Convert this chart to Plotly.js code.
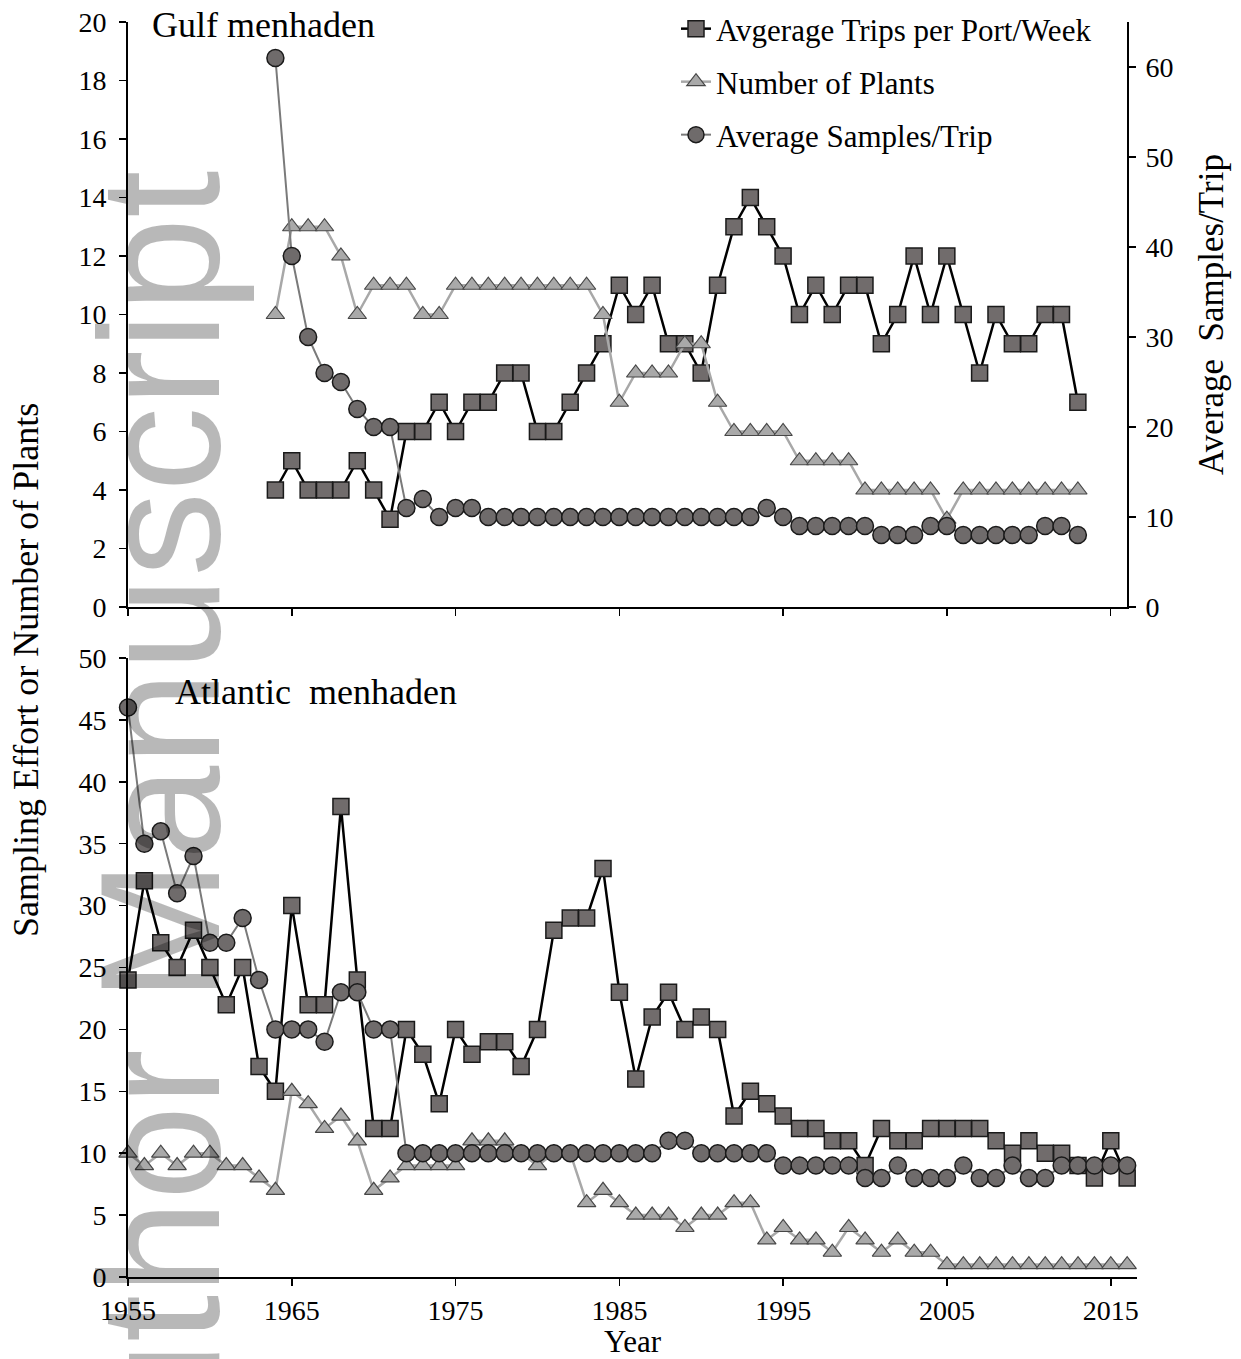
<!DOCTYPE html>
<html>
<head>
<meta charset="utf-8">
<script src="https://cdn.plot.ly/plotly-3.0.1.min.js"></script>
<style>html,body{margin:0;padding:0;background:#fff;}#chart{width:1241px;height:1359px;}</style>
</head>
<body>
<div id="chart"></div>
<script>
// ---- Gulf menhaden (top panel) ----
const gulfYears = [1964,1965,1966,1967,1968,1969,1970,1971,1972,1973,
                   1974,1975,1976,1977,1978,1979,1980,1981,1982,1983,
                   1984,1985,1986,1987,1988,1989,1990,1991,1992,1993,
                   1994,1995,1996,1997,1998,1999,2000,2001,2002,2003,
                   2004,2005,2006,2007,2008,2009,2010,2011,2012,2013];
const gulfTrips   = [4,5,4,4,4,5,4,3,6,6, 7,6,7,7,8,8,6,6,7,8, 9,11,10,11,9,9,8,11,13,14, 13,12,10,11,10,11,11,9,10,12, 10,12,10,8,10,9,9,10,10,7];
const gulfPlants  = [10,13,13,13,12,10,11,11,11,10, 10,11,11,11,11,11,11,11,11,11, 10,7,8,8,8,9,9,7,6,6, 6,6,5,5,5,5,4,4,4,4, 4,3,4,4,4,4,4,4,4,4];
const gulfSamples = [61,39,30,26,25,22,20,20,11,12, 10,11,11,10,10,10,10,10,10,10, 10,10,10,10,10,10,10,10,10,10, 11,10,9,9,9,9,9,8,8,8, 9,9,8,8,8,8,8,9,9,8];

// ---- Atlantic menhaden (bottom panel) ----
const atlYears = [1955,1956,1957,1958,1959,1960,1961,1962,1963,1964,
                  1965,1966,1967,1968,1969,1970,1971,1972,1973,1974,
                  1975,1976,1977,1978,1979,1980,1981,1982,1983,1984,
                  1985,1986,1987,1988,1989,1990,1991,1992,1993,1994,
                  1995,1996,1997,1998,1999,2000,2001,2002,2003,2004,
                  2005,2006,2007,2008,2009,2010,2011,2012,2013,2014,
                  2015,2016];
const atlTrips   = [24,32,27,25,28,25,22,25,17,15, 30,22,22,38,24,12,12,20,18,14, 20,18,19,19,17,20,28,29,29,33, 23,16,21,23,20,21,20,13,15,14, 13,12,12,11,11,9,12,11,11,12, 12,12,12,11,10,11,10,10,9,8, 11,8];
const atlPlants  = [10,9,10,9,10,10,9,9,8,7, 15,14,12,13,11,7,8,9,9,9, 9,11,11,11,10,9,10,10,6,7, 6,5,5,5,4,5,5,6,6,3, 4,3,3,2,4,3,2,3,2,2, 1,1,1,1,1,1,1,1,1,1, 1,1];
const atlSamples = [46,35,36,31,34,27,27,29,24,20, 20,20,19,23,23,20,20,10,10,10, 10,10,10,10,10,10,10,10,10,10, 10,10,10,11,11,10,10,10,10,10, 9,9,9,9,9,8,8,9,8,8, 8,9,8,8,9,8,8,9,9,9, 9,9];

const seriesNames = ['Avgerage Trips per Port/Week', 'Number of Plants', 'Average Samples/Trip'];

const SERIF = 'Liberation Serif, Times New Roman, serif';

const styTrips = {
  mode: 'lines+markers',
  line: {color: '#000000', width: 2.5},
  marker: {symbol: 'square', size: 16, color: '#716c6c', line: {color: '#1a1a1a', width: 1.5}},
  cliponaxis: false
};
const styPlants = {
  mode: 'lines+markers',
  line: {color: '#a8a8a8', width: 2.5},
  marker: {symbol: 'triangle-up', size: 16, color: '#a9a9a9', line: {color: '#474747', width: 1.2}},
  cliponaxis: false
};
const stySamples = {
  mode: 'lines+markers',
  line: {color: '#7a7a7a', width: 2},
  marker: {symbol: 'circle', size: 17, color: '#6f6b6b', line: {color: '#1a1a1a', width: 1.5}},
  cliponaxis: false
};

const traces = [
  Object.assign({x: gulfYears, y: gulfTrips, name: seriesNames[0], xaxis: 'x', yaxis: 'y', legend: 'legend'}, styTrips),
  Object.assign({x: gulfYears, y: gulfPlants, name: seriesNames[1], xaxis: 'x', yaxis: 'y', legend: 'legend2'}, styPlants),
  Object.assign({x: gulfYears, y: gulfSamples, name: seriesNames[2], xaxis: 'x', yaxis: 'y2', legend: 'legend3'}, stySamples),
  Object.assign({x: atlYears, y: atlTrips, name: seriesNames[0], xaxis: 'x2', yaxis: 'y3', showlegend: false}, styTrips),
  Object.assign({x: atlYears, y: atlPlants, name: seriesNames[1], xaxis: 'x2', yaxis: 'y3', showlegend: false}, styPlants),
  Object.assign({x: atlYears, y: atlSamples, name: seriesNames[2], xaxis: 'x2', yaxis: 'y3', showlegend: false}, stySamples)
];

// pixel helpers for paper coordinates (plot area: x 128..1137, y 22..1277)
const L = 128, R = 1137, T = 22, B = 1277;
const px = v => (v - L) / (R - L);
const py = v => (B - v) / (B - T);

const axisCommon = {
  showline: true, linecolor: '#000', linewidth: 2,
  ticks: 'outside', ticklen: 7, tickwidth: 1.5, tickcolor: '#000',
  showgrid: false, zeroline: false,
  tickfont: {family: SERIF, size: 28, color: '#000'}
};

const legendCommon = {
  xanchor: 'left', yanchor: 'middle', bgcolor: 'rgba(0,0,0,0)',
  font: {family: SERIF, size: 31, color: '#000'}, itemwidth: 30
};

const layout = {
  width: 1241, height: 1359,
  paper_bgcolor: '#fff', plot_bgcolor: 'rgba(0,0,0,0)',
  margin: {l: L, r: 1241 - R, t: T, b: 1359 - B, pad: 0, autoexpand: false},
  font: {family: SERIF, color: '#000'},
  showlegend: true,
  xaxis: Object.assign({}, axisCommon, {domain: [0, px(1127)], range: [1955, 2016], anchor: 'y',
    tick0: 1955, dtick: 10, showticklabels: false}),
  yaxis: Object.assign({}, axisCommon, {domain: [py(607), 1], range: [0, 20], dtick: 2, anchor: 'x',
    ticklabelstandoff: 7}),
  yaxis2: Object.assign({}, axisCommon, {overlaying: 'y', side: 'right', anchor: 'x', range: [0, 65],
    tickvals: [0,10,20,30,40,50,60], ticklabelstandoff: 4,
    title: {text: 'Average  Samples/Trip', font: {family: SERIF, size: 35, color: '#000'}, standoff: 26}}),
  xaxis2: Object.assign({}, axisCommon, {domain: [0, 1], range: [1955, 2016.6], anchor: 'y3',
    tick0: 1955, dtick: 10,
    title: {text: 'Year', font: {family: SERIF, size: 31, color: '#000'}, standoff: 4}}),
  yaxis3: Object.assign({}, axisCommon, {domain: [0, py(658)], range: [0, 50], dtick: 5, anchor: 'x2',
    ticklabelstandoff: 7}),
  legend:  Object.assign({}, legendCommon, {x: px(676), y: py(29)}),
  legend2: Object.assign({}, legendCommon, {x: px(676), y: py(82)}),
  legend3: Object.assign({}, legendCommon, {x: px(676), y: py(135)}),
  annotations: [
    {text: 'Gulf menhaden', xref: 'paper', yref: 'paper', x: px(150), y: py(25), xanchor: 'left', yanchor: 'middle',
     showarrow: false, font: {family: SERIF, size: 36, color: '#000'}},
    {text: 'Atlantic  menhaden', xref: 'paper', yref: 'paper', x: px(173), y: py(692), xanchor: 'left', yanchor: 'middle',
     showarrow: false, font: {family: SERIF, size: 36, color: '#000'}},
    {text: 'Sampling Effort or Number of Plants', xref: 'paper', yref: 'paper', x: px(26), y: py(670),
     xanchor: 'center', yanchor: 'middle', textangle: -90, showarrow: false,
     font: {family: SERIF, size: 36, color: '#000'}},
    {text: 'Author Manuscript', xref: 'paper', yref: 'paper', x: px(160), y: py(860),
     xanchor: 'center', yanchor: 'middle', textangle: -90, showarrow: false,
     font: {family: 'Liberation Sans, Arial, sans-serif', size: 170, color: 'rgba(0,0,0,0.28)'}}
  ]
};

Plotly.newPlot('chart', traces, layout, {staticPlot: true, displayModeBar: false});
</script>
</body>
</html>
